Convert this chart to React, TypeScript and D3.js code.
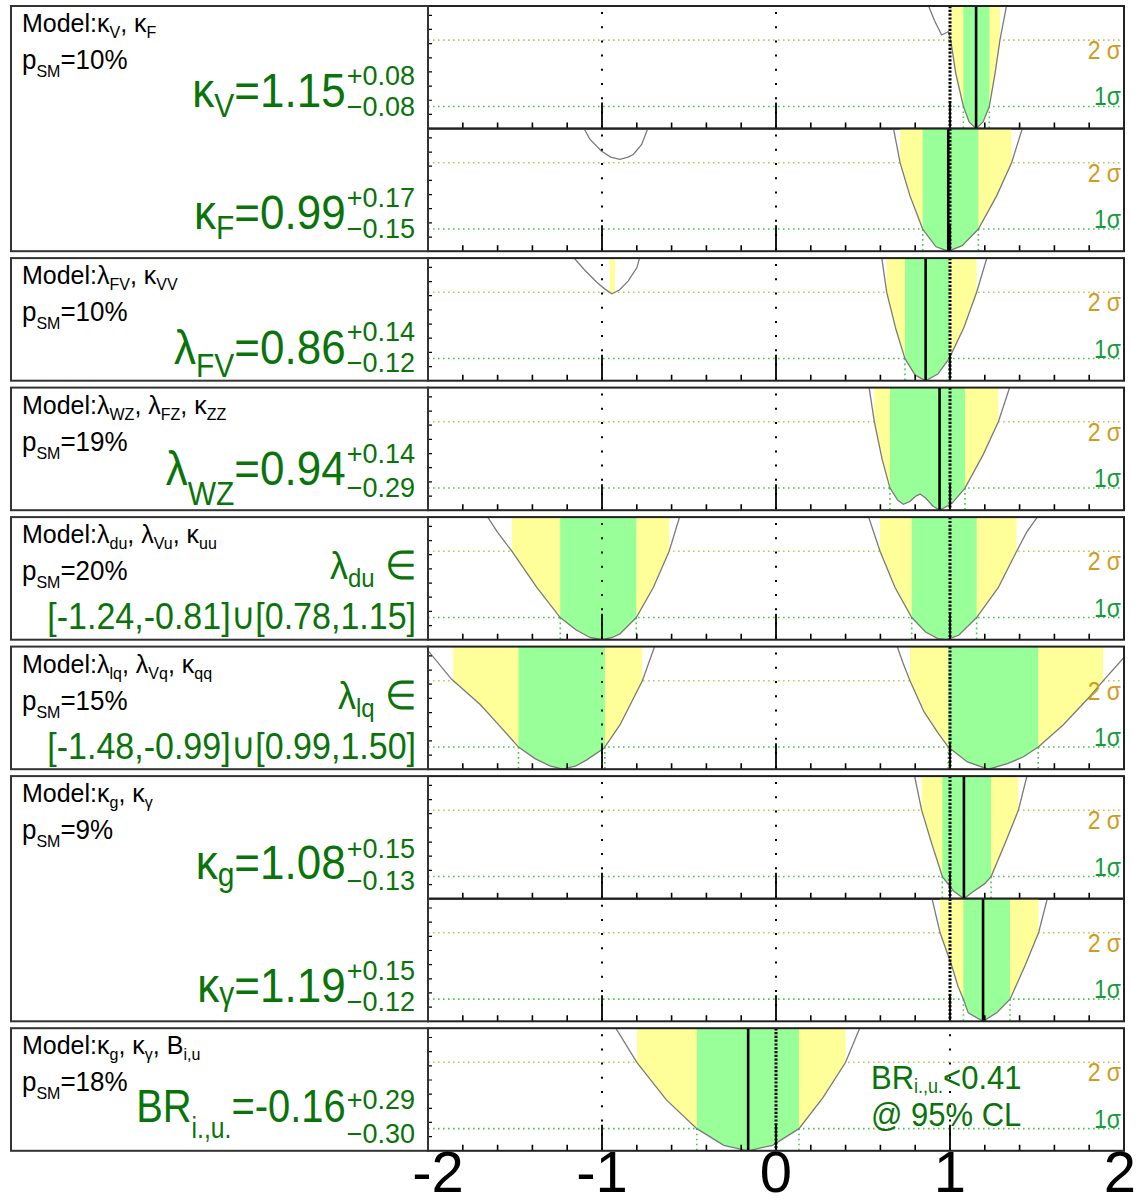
import React, { useEffect, useRef } from "react";
import * as d3 from "d3";

type Pt = [number, number];

// -2 ln(Lambda) profiles: [parameter value, delta]
const kappaV: Pt[] = [[0.874, 5.6], [0.91, 4.9], [0.952, 4.23], [0.975, 4.32], [0.99, 4.38], [1.004, 4.0], [1.033, 2.5], [1.077, 1.0], [1.11, 0.3], [1.15, 0], [1.19, 0.3], [1.226, 1.0], [1.259, 2.5], [1.287, 4.0], [1.326, 5.6]];
const kappaFNeg: Pt[] = [[-1.107, 5.6], [-1.069, 5.05], [-1.002, 4.52], [-0.95, 4.25], [-0.897, 4.15], [-0.85, 4.25], [-0.82, 4.37], [-0.772, 4.82], [-0.734, 5.6]];
const kappaF: Pt[] = [[0.674, 5.6], [0.713, 4.0], [0.77, 2.5], [0.843, 1.0], [0.92, 0.2], [0.99, 0], [1.07, 0.25], [1.163, 1.0], [1.268, 2.5], [1.354, 4.0], [1.418, 5.6]];
const lambdaFVNeg: Pt[] = [[-1.167, 5.6], [-1.1, 5.0], [-1.03, 4.45], [-0.985, 4.15], [-0.943, 3.93], [-0.9, 4.1], [-0.85, 4.5], [-0.8, 5.1], [-0.782, 5.6]];
const lambdaFV: Pt[] = [[0.607, 5.6], [0.636, 4.0], [0.69, 2.3], [0.741, 1.0], [0.8, 0.25], [0.86, 0], [0.93, 0.3], [0.995, 1.0], [1.08, 2.4], [1.153, 4.0], [1.214, 5.6]];
const lambdaWZ: Pt[] = [[0.534, 5.6], [0.565, 4.0], [0.61, 2.3], [0.655, 1.0], [0.7, 0.45], [0.732, 0.27], [0.77, 0.4], [0.8, 0.62], [0.828, 0.73], [0.86, 0.55], [0.9, 0.2], [0.94, 0], [1.01, 0.3], [1.086, 1.0], [1.19, 2.5], [1.278, 4.0], [1.345, 5.6]];
const lambdaDuNeg: Pt[] = [[-1.662, 5.6], [-1.6, 4.85], [-1.518, 4.0], [-1.375, 2.36], [-1.24, 1.0], [-1.15, 0.45], [-1.07, 0.1], [-1.0, 0], [-0.94, 0.1], [-0.897, 0.26], [-0.803, 1.0], [-0.705, 2.36], [-0.614, 4.0], [-0.552, 5.6]];
const lambdaDuPos: Pt[] = [[0.53, 5.6], [0.598, 4.0], [0.684, 2.36], [0.78, 1.0], [0.86, 0.35], [0.93, 0.05], [0.98, 0], [1.05, 0.2], [1.153, 1.0], [1.278, 2.36], [1.383, 4.0], [1.44, 4.85], [1.507, 5.6]];
const lambdaLqNeg: Pt[] = [[-2.0, 5.36], [-1.864, 4.06], [-1.7, 2.92], [-1.6, 2.06], [-1.48, 1.0], [-1.385, 0.48], [-1.3, 0.15], [-1.224, 0], [-1.15, 0.15], [-1.09, 0.41], [-0.989, 0.94], [-0.897, 2.0], [-0.768, 4.0], [-0.695, 5.6]];
const lambdaLqPos: Pt[] = [[0.694, 5.6], [0.73, 4.8], [0.77, 4.0], [0.85, 2.6], [0.93, 1.65], [0.99, 1.0], [1.1, 0.33], [1.22, 0], [1.33, 0.25], [1.42, 0.55], [1.507, 1.0], [1.65, 2.0], [1.8, 3.25], [1.881, 4.0], [2.0, 5.05]];
const kappaG: Pt[] = [[0.795, 5.6], [0.837, 4.0], [0.895, 2.49], [0.956, 1.0], [1.02, 0.35], [1.08, 0], [1.13, 0.3], [1.2, 0.68], [1.236, 1.0], [1.316, 2.49], [1.393, 4.0], [1.444, 5.6]];
const kappaGamma: Pt[] = [[0.895, 5.6], [0.943, 4.0], [1.01, 2.51], [1.045, 1.6], [1.077, 1.0], [1.105, 0.38], [1.19, 0], [1.27, 0.4], [1.345, 1.0], [1.431, 2.51], [1.509, 4.0], [1.561, 5.6]];
const brInvUndet: Pt[] = [[-0.925, 5.6], [-0.8, 4.0], [-0.63, 2.3], [-0.455, 1.0], [-0.3, 0.25], [-0.16, 0], [-0.02, 0.25], [0.132, 1.0], [0.27, 2.4], [0.4, 4.0], [0.484, 5.6]];

// best-fit values and SM expectations
const bestFit = [1.15, 0.99, 0.86, 0.94, 1.08, 1.19, -0.16];
const smValue = [1, 1, 1, 1, 1, 1, 0];

const xTicks = [-2, -1, 0, 1, 2];
const gridValues = [-1, 0, 1];
const sigmaLevels = [4, 1];
const sigmaLabels = ["2 σ", "1σ"];
const pSM = ["10%", "10%", "19%", "20%", "15%", "9%", "18%"];
const upErr = ["+0.08", "+0.17", "+0.14", "+0.14", "+0.15", "+0.15", "+0.29"];
const downErr = ["−0.08", "−0.15", "−0.12", "−0.29", "−0.13", "−0.12", "−0.30"];

const W = 1138;
const H = 1204;
const BOX_L = 11;
const PLOT_L = 428;
const PLOT_R = 1124;
const ROW_H = 122.6;
const GAP = 6.9;
const TOP = 6;
const Y_MAX = 5.54;
const FONT = "'Liberation Sans', Arial, Helvetica, sans-serif";
const GREEN_TXT = "#0a730a";
const STRETCH = 1.1;

type Part = [string, string?];

const res = (name: Part, value: string, i: number, off: number[]) => ({
  name, value, up: upErr[i], down: downErr[i], best: bestFit[i], sm: smValue[i], off,
});

// off: [main baseline from row bottom, sup dy, sub dy, name-sub dy]
const panels: any[] = [
  {
    model: [["Model:κ", "V"], [", κ", "F"]], p: pSM[0],
    rows: [
      { curves: [kappaV], r: res(["κ", "V"], "=1.15", 0, [-22, -22, 9, 10]) },
      { curves: [kappaFNeg, kappaF], r: res(["κ", "F"], "=0.99", 1, [-22, -22, 9, 10]) },
    ],
  },
  {
    model: [["Model:λ", "FV"], [", κ", "VV"]], p: pSM[1],
    rows: [{ curves: [lambdaFVNeg, lambdaFV], r: res(["λ", "FV"], "=0.86", 2, [-17, -23, 8, 13]) }],
  },
  {
    model: [["Model:λ", "WZ"], [", λ", "FZ"], [", κ", "ZZ"]], p: pSM[2],
    rows: [{ curves: [lambdaWZ], r: res(["λ", "WZ"], "=0.94", 3, [-25, -22, 12, 20]) }],
  },
  {
    model: [["Model:λ", "du"], [", λ", "Vu"], [", κ", "uu"]], p: pSM[3],
    rows: [{ curves: [lambdaDuNeg, lambdaDuPos], sm: 1 }],
    interval: { name: ["λ", "du"], text: "[-1.24,-0.81]∪[0.78,1.15]" },
  },
  {
    model: [["Model:λ", "lq"], [", λ", "Vq"], [", κ", "qq"]], p: pSM[4],
    rows: [{ curves: [lambdaLqNeg, lambdaLqPos], sm: 1 }],
    interval: { name: ["λ", "lq"], text: "[-1.48,-0.99]∪[0.99,1.50]" },
  },
  {
    model: [["Model:κ", "g"], [", κ", "γ"]], p: pSM[5],
    rows: [
      { curves: [kappaG], r: res(["κ", "g"], "=1.08", 4, [-20, -21, 11, 7]) },
      { curves: [kappaGamma], r: res(["κ", "γ"], "=1.19", 5, [-19, -22, 9, 3]) },
    ],
  },
  {
    model: [["Model:κ", "g"], [", κ", "γ"], [", B", "i,u"]], p: pSM[6],
    rows: [{ curves: [brInvUndet], r: res(["BR", "i.,u."], "=-0.16", 6, [-29, -13, 21, 16]) }],
    limit: true,
  },
];

// text with subscripts, optionally scaled
function rich(g: any, x: number, y: number, parts: Part[], o: any) {
  const s = o.stretch || 1;
  const sx = o.sx || 1;
  const t = g.append("text")
    .attr("transform", `translate(${x},${y}) scale(${sx},${s})`)
    .attr("text-anchor", o.anchor || "start")
    .attr("fill", o.fill || "#000")
    .attr("font-family", FONT)
    .style("white-space", "pre");
  let off = 0;
  parts.forEach(([base, sub]) => {
    if (base) {
      t.append("tspan").attr("font-size", o.size).attr("dy", -off).text(base);
      off = 0;
    }
    if (sub) {
      const d = o.subDy / s;
      t.append("tspan").attr("font-size", o.subSize).attr("dy", d - off).text(sub);
      off = d;
    }
  });
  return t;
}

// x-ranges where the profile is below a level
function below(pts: Pt[], level: number): [number, number][] {
  const out: [number, number][] = [];
  let start: number | null = pts[0][1] < level ? pts[0][0] : null;
  for (let i = 1; i < pts.length; i++) {
    const [x0, v0] = pts[i - 1];
    const [x1, v1] = pts[i];
    const b0 = v0 < level, b1 = v1 < level;
    if (b0 !== b1) {
      const xc = x0 + ((level - v0) / (v1 - v0)) * (x1 - x0);
      if (b1) start = xc;
      else { out.push([start as number, xc]); start = null; }
    }
  }
  if (start !== null) out.push([start, pts[pts.length - 1][0]]);
  return out;
}

function interp(pts: Pt[], x: number) {
  for (let i = 1; i < pts.length; i++) {
    const [x0, v0] = pts[i - 1];
    const [x1, v1] = pts[i];
    if (x >= x0 && x <= x1) return v0 + ((x - x0) / (x1 - x0)) * (v1 - v0);
  }
  return Y_MAX;
}

export default function App() {
  const ref = useRef<SVGSVGElement>(null);

  useEffect(() => {
    const svg = d3.select(ref.current);
    svg.selectAll("*").remove();

    const x = d3.scaleLinear().domain([-2, 2]).range([PLOT_L, PLOT_R]);
    const minorTicks = d3.range(-1.8, 1.81, 0.2).filter((t) => Math.abs(t - Math.round(t)) > 1e-6);

    let cursor = TOP;
    panels.forEach((p, pi) => {
      const pTop = cursor;
      const pBottom = pTop + p.rows.length * ROW_H;
      cursor = pBottom + GAP;
      const g = svg.append("g");

      p.rows.forEach((row: any, ri: number) => {
        const top = pTop + ri * ROW_H;
        const bottom = top + ROW_H;
        const y = d3.scaleLinear().domain([0, Y_MAX]).range([bottom, top]);
        const clipId = `clip-${pi}-${ri}`;
        svg.append("clipPath").attr("id", clipId)
          .append("rect").attr("x", PLOT_L).attr("y", top).attr("width", PLOT_R - PLOT_L).attr("height", ROW_H);
        const rg = g.append("g").attr("clip-path", `url(#${clipId})`);
        const sm = row.r ? row.r.sm : row.sm;

        // sigma reference lines
        rg.selectAll(".sig").data(sigmaLevels).join("line")
          .attr("x1", PLOT_L).attr("x2", PLOT_R)
          .attr("y1", (d) => y(d)).attr("y2", (d) => y(d))
          .attr("stroke", (d) => (d === 4 ? "#c3c35a" : "#4cc24c"))
          .attr("stroke-width", 1.6)
          .attr("stroke-dasharray", "1.6,3.4");

        const line = d3.line<Pt>().x((d) => x(d[0])).y((d) => y(d[1]));

        // bands above the profile
        sigmaLevels.forEach((lvl) => {
          row.curves.forEach((c: Pt[]) => {
            below(c, lvl).forEach(([lo, hi]) => {
              const poly: Pt[] = [[lo, interp(c, lo)], ...c.filter((d) => d[0] > lo && d[0] < hi), [hi, interp(c, hi)], [hi, Y_MAX + 1], [lo, Y_MAX + 1]];
              rg.append("path").attr("d", line(poly) + "Z")
                .attr("fill", lvl === 4 ? "#ffff99" : "#99ff99");
            });
          });
        });

        // 1 sigma edges
        row.curves.forEach((c: Pt[]) => {
          below(c, 1).forEach((iv) => {
            iv.forEach((v) => {
              rg.append("line").attr("x1", x(v)).attr("x2", x(v))
                .attr("y1", y(1)).attr("y2", y(0))
                .attr("stroke", "#4cc24c").attr("stroke-width", 1.6)
                .attr("stroke-dasharray", "1.6,3.4");
            });
          });
        });

        row.curves.forEach((c: Pt[]) => {
          rg.append("path").attr("d", line(c)).attr("fill", "none")
            .attr("stroke", "#7a7a7a").attr("stroke-width", 1.3);
        });

        // vertical grid
        rg.selectAll(".grid").data(gridValues.filter((v) => v !== sm)).join("line")
          .attr("x1", (d) => x(d)).attr("x2", (d) => x(d))
          .attr("y1", top + 6).attr("y2", bottom)
          .attr("stroke", "#000").attr("stroke-width", 2)
          .attr("stroke-dasharray", "2,12.2");

        rg.append("line").attr("x1", x(sm)).attr("x2", x(sm))
          .attr("y1", top).attr("y2", bottom)
          .attr("stroke", "#000").attr("stroke-width", 3)
          .attr("stroke-dasharray", "2.2,1.6");

        if (row.r) {
          rg.append("line").attr("x1", x(row.r.best)).attr("x2", x(row.r.best))
            .attr("y1", top).attr("y2", bottom)
            .attr("stroke", "#000").attr("stroke-width", 2.6);
        }

        // ticks
        rg.selectAll(".mt").data(minorTicks).join("line")
          .attr("x1", (d) => x(d)).attr("x2", (d) => x(d))
          .attr("y1", bottom).attr("y2", bottom - 6)
          .attr("stroke", "#000").attr("stroke-width", 1.6);
        rg.selectAll(".Mt").data(gridValues).join("line")
          .attr("x1", (d) => x(d)).attr("x2", (d) => x(d))
          .attr("y1", bottom).attr("y2", bottom - 26)
          .attr("stroke", "#000").attr("stroke-width", 1.8);
        rg.selectAll(".yt").data(d3.range(0.64, Y_MAX, 0.64)).join("line")
          .attr("x1", PLOT_L).attr("x2", PLOT_L + 4)
          .attr("y1", (d) => y(d)).attr("y2", (d) => y(d))
          .attr("stroke", "#000").attr("stroke-width", 1.2);

        g.append("rect").attr("x", PLOT_L).attr("y", top).attr("width", PLOT_R - PLOT_L).attr("height", ROW_H)
          .attr("fill", "none").attr("stroke", "#222").attr("stroke-width", 2);

        // sigma labels
        rich(g, PLOT_R - 3, y(4) + 19, [[sigmaLabels[0]]], { size: 23, anchor: "end", fill: "#d19c1d", stretch: STRETCH });
        rich(g, PLOT_R - 3, y(1) - 1, [[sigmaLabels[1]]], { size: 23, anchor: "end", fill: "#139c3c", stretch: STRETCH });

        // result text in the label box
        if (row.r) {
          const r = row.r;
          const [mainOff, supOff, subOff, nameSub] = r.off;
          const base = bottom + mainOff;
          const xr = 415;
          const sup = rich(g, xr, base + supOff, [[r.up]], { size: 27, anchor: "end", fill: GREEN_TXT });
          const sub = rich(g, xr, base + subOff, [[r.down]], { size: 27, anchor: "end", fill: GREEN_TXT });
          const w = Math.max((sup.node() as any).getComputedTextLength(), (sub.node() as any).getComputedTextLength());
          const isBR = r.name[0] === "BR";
          rich(g, xr - w - 1, base, [r.name, [r.value]], {
            size: isBR ? 42 : 44, subSize: isBR ? 26 : 30, subDy: nameSub, anchor: "end",
            fill: GREEN_TXT, stretch: STRETCH, sx: isBR ? 0.95 : 1,
          });
        }
      });

      // label box
      g.append("rect").attr("x", BOX_L).attr("y", pTop).attr("width", PLOT_L - BOX_L).attr("height", pBottom - pTop)
        .attr("fill", "none").attr("stroke", "#333").attr("stroke-width", 2);
      rich(g, 22, pTop + 26, p.model, { size: 25, subSize: 16, subDy: 6, stretch: 1.05 });
      rich(g, 22, pTop + 63, [["p", "SM"], ["=" + p.p]], { size: 26, subSize: 16, subDy: 8, stretch: 1.05 });

      if (p.interval) {
        rich(g, 416, pTop + 62, [p.interval.name, [" ∈"]], { size: 36, subSize: 24, subDy: 8, anchor: "end", fill: GREEN_TXT, stretch: STRETCH });
        rich(g, 416, pTop + 112, [[p.interval.text]], { size: 34, anchor: "end", fill: GREEN_TXT, stretch: 1.1 });
      }
      if (p.limit) {
        rich(g, 871, pTop + 61, [["BR", "i.,u."], ["<0.41"]], { size: 31, subSize: 18, subDy: 4, fill: GREEN_TXT, stretch: 1.1 });
        rich(g, 871, pTop + 98, [["@ 95% CL"]], { size: 31, fill: GREEN_TXT, stretch: 1.05 });
      }
    });

    // bottom axis labels
    svg.append("g").selectAll("text").data(xTicks).join("text")
      .attr("x", (d) => Math.max(438, Math.min(W - 18, x(d))))
      .attr("y", 1192).attr("text-anchor", "middle")
      .attr("font-family", FONT).attr("font-size", 58).attr("fill", "#000")
      .text((d) => String(d));
  }, []);

  return (
    <svg
      ref={ref}
      width={W}
      height={H}
      style={{ position: "absolute", left: 0, top: 0, background: "#fff" }}
    />
  );
}
